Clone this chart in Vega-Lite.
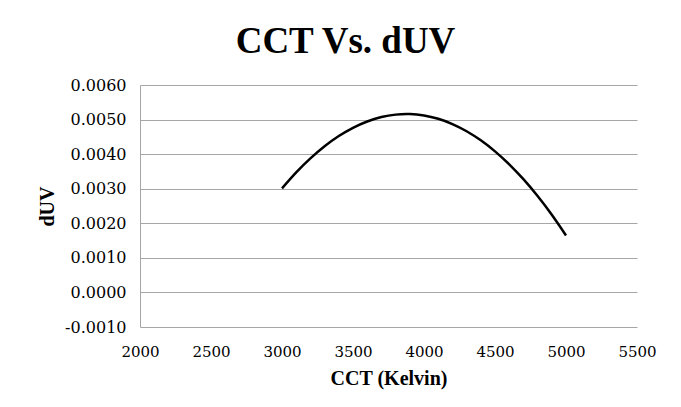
{
  "$schema": "https://vega.github.io/schema/vega-lite/v6.json",
  "width": 497,
  "height": 242,
  "autosize": {"type": "none"},
  "padding": {"left": 140, "top": 85, "right": 44, "bottom": 80},
  "background": "white",
  "title": {
    "text": "CCT Vs. dUV",
    "font": "Liberation Serif",
    "fontSize": 37,
    "fontWeight": "bold",
    "color": "#000000",
    "anchor": "middle",
    "dx": -43,
    "offset": 16
  },
  "config": {
    "view": {"stroke": null},
    "axis": {
      "labelFont": "DejaVu Serif",
      "labelFontSize": 15,
      "labelColor": "#000000",
      "titleFont": "Liberation Serif",
      "titleFontSize": 20,
      "titleFontWeight": "bold",
      "titleColor": "#000000",
      "ticks": false,
      "gridColor": "#a6a6a6",
      "gridWidth": 1,
      "gridOpacity": 1,
      "domainColor": "#a6a6a6",
      "domainWidth": 1
    }
  },
  "data": {
    "values": [
      {"cct": 3000, "duv": 0.003009},
      {"cct": 3100, "duv": 0.003471},
      {"cct": 3200, "duv": 0.003877},
      {"cct": 3300, "duv": 0.004228},
      {"cct": 3400, "duv": 0.004523},
      {"cct": 3500, "duv": 0.004761},
      {"cct": 3600, "duv": 0.004944},
      {"cct": 3700, "duv": 0.005072},
      {"cct": 3800, "duv": 0.005143},
      {"cct": 3900, "duv": 0.005159},
      {"cct": 4000, "duv": 0.005118},
      {"cct": 4100, "duv": 0.005022},
      {"cct": 4200, "duv": 0.004871},
      {"cct": 4300, "duv": 0.004663},
      {"cct": 4400, "duv": 0.0044},
      {"cct": 4500, "duv": 0.004081},
      {"cct": 4600, "duv": 0.003706},
      {"cct": 4700, "duv": 0.003275},
      {"cct": 4800, "duv": 0.002788},
      {"cct": 4900, "duv": 0.002246},
      {"cct": 5000, "duv": 0.001648}
    ]
  },
  "mark": {"type": "line", "color": "#000000", "strokeWidth": 2.5, "interpolate": "natural"},
  "encoding": {
    "x": {
      "field": "cct",
      "type": "quantitative",
      "scale": {"domain": [2000, 5500], "nice": false, "zero": false},
      "axis": {
        "title": "CCT (Kelvin)",
        "values": [2000, 2500, 3000, 3500, 4000, 4500, 5000, 5500],
        "format": "d",
        "grid": false,
        "domain": false,
        "labelPadding": 17,
        "titlePadding": 9,
        "labelFlush": false
      }
    },
    "y": {
      "field": "duv",
      "type": "quantitative",
      "scale": {"domain": [-0.001, 0.006], "nice": false, "zero": false},
      "axis": {
        "title": "dUV",
        "values": [-0.001, 0, 0.001, 0.002, 0.003, 0.004, 0.005, 0.006],
        "labelExpr": "datum.value < 0 ? '-' + format(-datum.value, '.4f') : format(datum.value, '.4f')",
        "labelFontSize": 16,
        "labelPadding": 14,
        "titlePadding": 7,
        "labelFlush": false
      }
    }
  }
}
